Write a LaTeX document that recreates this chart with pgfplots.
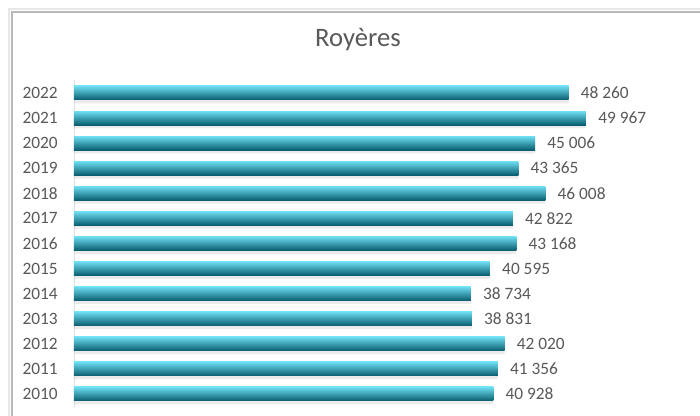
\documentclass[border=0pt]{standalone}
\usepackage{pgfplots}
\pgfplotsset{compat=1.18}
\usepackage{fontspec}
\setmainfont{Carlito}
\definecolor{txt}{RGB}{89,89,89}
\definecolor{bartop}{RGB}{110,222,242}
\definecolor{barmid}{RGB}{28,182,208}
\definecolor{barbot}{RGB}{8,92,110}
\begin{document}
\begin{tikzpicture}
\useasboundingbox (0,0) rectangle (525pt,312pt);
\clip (0,0) rectangle (525pt,312pt);
\fill[white] (0,0) rectangle (525pt,312pt);
\draw[line width=1.5pt, gray!18] (7pt,-5pt) -- (7pt,305pt) -- (530pt,305pt);
\draw[line width=2pt, gray!55] (9pt,-5pt) -- (9pt,303pt) -- (530pt,303pt);
\node[font=\fontsize{20}{24}\selectfont, text=txt] at (268.5pt,282pt) {Royères};
\begin{axis}[
  at={(55.5pt,7.1pt)}, anchor=south west,
  scale only axis, width=461.1pt, height=244.6pt,
  xmin=0, xmax=60000, ymin=-0.5, ymax=12.5,
  axis x line=none, axis y line*=left,
  y axis line style={gray!25, -},
  ytick={0,...,12},
  yticklabels={2010,2011,2012,2013,2014,2015,2016,2017,2018,2019,2020,2021,2022},
  major tick length=0pt,
  yticklabel style={font=\fontsize{13}{15}\selectfont, text=txt, inner sep=0pt, xshift=-12pt},
  /pgf/number format/assume math mode=true,
  /pgf/number format/1000 sep={\ },
  clip=false,
  mybar/.style={xbar, bar width=10.5pt, bar shift=0pt, draw=none,
    top color=bartop, middle color=barmid, bottom color=barbot,
    nodes near coords,
    nodes near coords style={font=\fontsize{13}{15}\selectfont, text=txt, anchor=west, inner sep=0pt, xshift=9pt}},
]
\addplot[xbar, bar width=10.5pt, bar shift=-2.5pt, fill=gray!45, draw=none, opacity=0.35, forget plot]
  coordinates {(40928,0) (41356,1) (42020,2) (38831,3) (38734,4) (40595,5) (43168,6) (42822,7) (46008,8) (43365,9) (45006,10) (49967,11) (48260,12)};
\addplot[mybar] coordinates {(40928,0)};
\addplot[mybar] coordinates {(41356,1)};
\addplot[mybar] coordinates {(42020,2)};
\addplot[mybar] coordinates {(38831,3)};
\addplot[mybar] coordinates {(38734,4)};
\addplot[mybar] coordinates {(40595,5)};
\addplot[mybar] coordinates {(43168,6)};
\addplot[mybar] coordinates {(42822,7)};
\addplot[mybar] coordinates {(46008,8)};
\addplot[mybar] coordinates {(43365,9)};
\addplot[mybar] coordinates {(45006,10)};
\addplot[mybar] coordinates {(49967,11)};
\addplot[mybar] coordinates {(48260,12)};
\end{axis}
\end{tikzpicture}
\end{document}
